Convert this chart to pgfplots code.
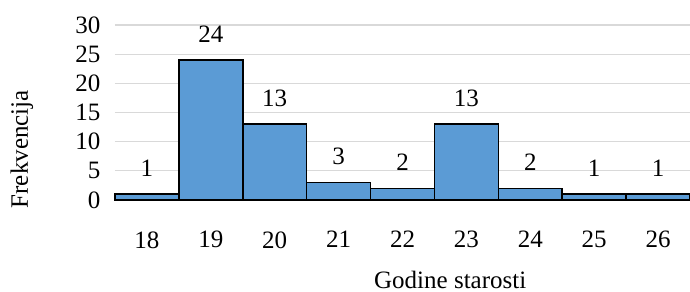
\documentclass[border=0pt]{standalone}
\usepackage{pgfplots}
\pgfplotsset{compat=1.18}
\usepackage{fontspec}
\setmainfont{Liberation Serif}
\definecolor{barblue}{HTML}{5B9BD5}
\definecolor{gridgray}{HTML}{D9D9D9}
\begin{document}
\fontsize{12.5}{15}\selectfont
\begin{tikzpicture}
\begin{axis}[
  name=ax,
  scale only axis,
  width=287.5pt, height=87.5pt,
  xmin=-0.5, xmax=8.5,
  ymin=0, ymax=30,
  ytick={0,5,10,15,20,25,30},
  xtick={0,1,2,3,4,5,6,7,8},
  xticklabels={18,19,20,21,22,23,24,25,26},
  axis line style={draw=none},
  major tick length=0pt,
  ymajorgrids,
  grid style={gridgray, line width=0.6pt},
  /pgf/number format/assume math mode=true,
  tick label style={font=\fontsize{12.5}{15}\selectfont},
  yticklabel style={xshift=-3pt},
  xticklabel style={anchor=north, inner sep=0pt, yshift=-15.5pt},
  xlabel={Godine starosti},
  ylabel={Frekvencija},
  label style={font=\fontsize{12.5}{15}\selectfont},
  xlabel style={at={(axis description cs:0.583,-0.457)}, anchor=center},
  ylabel style={at={(axis description cs:-0.162,0.29)}, anchor=center},
  clip=false,
]
\addplot[ybar, bar width=1, fill=barblue, draw=black, line width=0.8pt,
  nodes near coords,
  every node near coord/.append style={font=\fontsize{12.5}{15}\selectfont, inner sep=0pt, anchor=south, yshift=8.5pt}]
coordinates {(0,1) (1,24) (2,13) (3,3) (4,2) (5,13) (6,2) (7,1) (8,1)};
\end{axis}
\pgfresetboundingbox
\path (ax.south west) ++(-57.5pt,-45.5pt) rectangle ++(345pt,145.5pt);
\end{tikzpicture}
\end{document}
